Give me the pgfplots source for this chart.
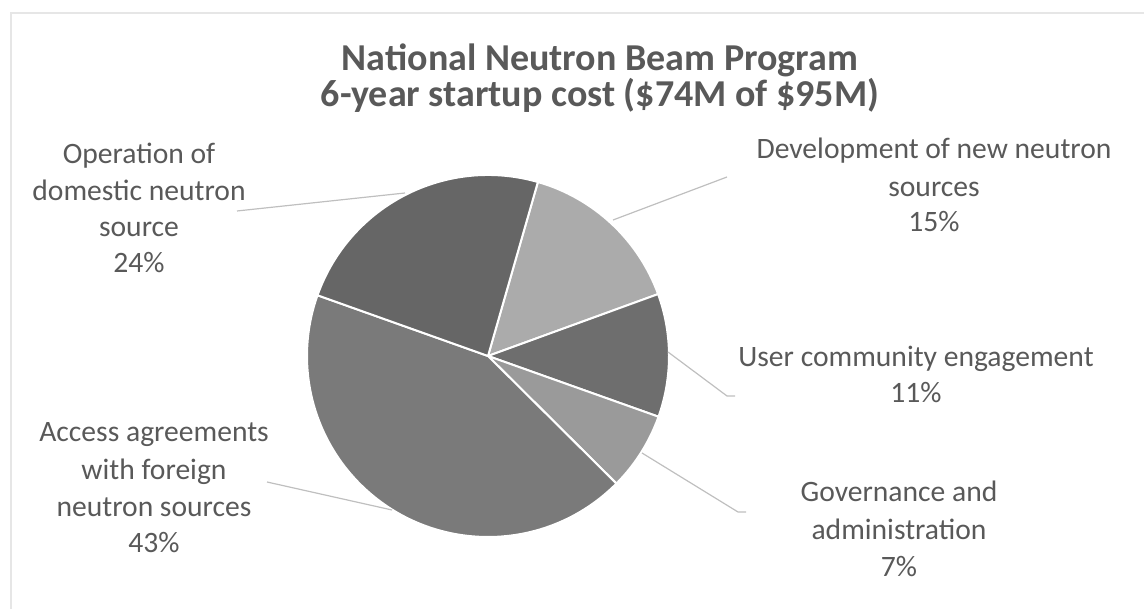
\documentclass[border=0pt]{standalone}
\usepackage{fontspec}
\setmainfont{Carlito}
\usepackage{pgfplots}
\pgfplotsset{compat=1.18}
\definecolor{txt}{HTML}{595959}
\definecolor{lead}{HTML}{BFBFBF}
\definecolor{frame}{HTML}{E6E6E6}
\definecolor{cOper}{HTML}{666666}
\definecolor{cDev}{HTML}{ABABAB}
\definecolor{cUser}{HTML}{6E6E6E}
\definecolor{cGov}{HTML}{9A9A9A}
\definecolor{cAcc}{HTML}{7A7A7A}
\newcommand\lab{\fontsize{14.8pt}{18pt}\selectfont\color{txt}}
\newcommand\ttl{\fontsize{19pt}{18pt}\selectfont\color{txt}\bfseries}
\begin{document}
\begin{tikzpicture}
\begin{axis}[
  scale only axis, width=572pt, height=304.5pt,
  xmin=0, xmax=1144, ymin=0, ymax=609,
  hide axis, clip=false,
]
% frame
\draw[frame, line width=0.9pt] (axis cs:11,0) -- (axis cs:11,596) -- (axis cs:1144,596);
% pie: percentages, clockwise from 16 deg past 12 o'clock
\gdef\cum{16}
\foreach \p/\c in {15/cDev,11/cUser,7/cGov,43/cAcc,24/cOper}{
  \pgfmathsetmacro\tA{90-\cum}
  \pgfmathsetmacro\tB{90-\cum-3.6*\p}
  \pgfmathsetmacro\newcum{\cum+3.6*\p}
  \xdef\cum{\newcum}
  \edef\doplot{\noexpand\addplot[fill=\c, draw=white, line width=1pt, line join=round]
    coordinates {(488,253)} -- ++(\tA:90.5pt) arc[start angle=\tA, end angle=\tB, radius=90.5pt] -- cycle;}
  \doplot
}
% leader lines
\draw[lead, line width=0.6pt] (axis cs:237,398) -- (axis cs:405,416);
\draw[lead, line width=0.6pt] (axis cs:613,389) -- (axis cs:727,432);
\draw[lead, line width=0.6pt] (axis cs:668,257) -- (axis cs:727,213) -- (axis cs:735,213);
\draw[lead, line width=0.6pt] (axis cs:642,156) -- (axis cs:738,97) -- (axis cs:746,97);
\draw[lead, line width=0.6pt] (axis cs:267,127) -- (axis cs:392,99);
% title
\node[anchor=base, inner sep=0pt] at (axis cs:600,538) {\ttl National Neutron Beam Program};
\node[anchor=base, inner sep=0pt] at (axis cs:600,502) {\ttl 6-year startup cost (\$74M of \$95M)};
% labels
\node[anchor=base, inner sep=0pt] at (axis cs:139,445) {\lab Operation of};
\node[anchor=base, inner sep=0pt] at (axis cs:139,408) {\lab domestic neutron};
\node[anchor=base, inner sep=0pt] at (axis cs:139,372) {\lab source};
\node[anchor=base, inner sep=0pt] at (axis cs:139,336) {\lab 24\%};
\node[anchor=base, inner sep=0pt] at (axis cs:934,450) {\lab Development of new neutron};
\node[anchor=base, inner sep=0pt] at (axis cs:934,412) {\lab sources};
\node[anchor=base, inner sep=0pt] at (axis cs:934,377) {\lab 15\%};
\node[anchor=base, inner sep=0pt] at (axis cs:916,242) {\lab User community engagement};
\node[anchor=base, inner sep=0pt] at (axis cs:916,206) {\lab 11\%};
\node[anchor=base, inner sep=0pt] at (axis cs:899,107) {\lab Governance and};
\node[anchor=base, inner sep=0pt] at (axis cs:899,69) {\lab administration};
\node[anchor=base, inner sep=0pt] at (axis cs:899,32) {\lab 7\%};
\node[anchor=base, inner sep=0pt] at (axis cs:154,167) {\lab Access agreements};
\node[anchor=base, inner sep=0pt] at (axis cs:154,129) {\lab with foreign};
\node[anchor=base, inner sep=0pt] at (axis cs:154,92) {\lab neutron sources};
\node[anchor=base, inner sep=0pt] at (axis cs:154,56) {\lab 43\%};
\end{axis}
\pgfresetboundingbox
\useasboundingbox (0,0) rectangle (572pt,304.5pt);
\end{tikzpicture}
\end{document}
